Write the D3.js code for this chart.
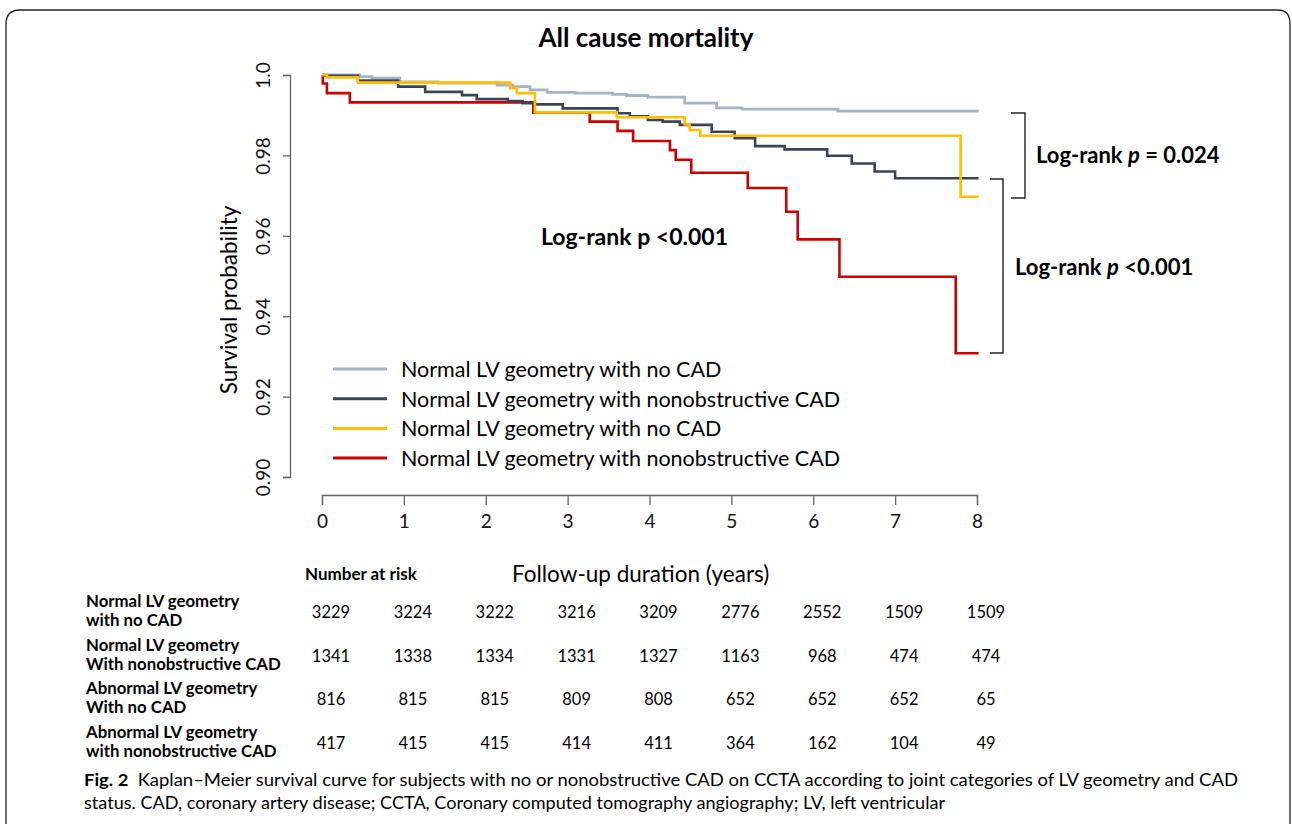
<!DOCTYPE html>
<html>
<head>
<meta charset="utf-8">
<script src="https://cdn.jsdelivr.net/npm/d3@7"></script>
<style>
  html, body { margin: 0; padding: 0; background: #fff; }
  svg { display: block; font-family: Lato, "Open Sans", sans-serif; }
</style>
</head>
<body>
<div id="chart"></div>
<script>
// Kaplan-Meier steps: [time in years, survival after the event]
const greyNoCad = [[0, 1], [0.46, 0.9996], [0.61, 0.9992], [0.95, 0.9983], [1.42, 0.998], [2.14, 0.9975],
  [2.33, 0.9971], [2.54, 0.9963], [2.75, 0.9957], [3.09, 0.9955], [3.55, 0.9952], [3.72, 0.9949],
  [3.98, 0.9945], [4.43, 0.993], [4.82, 0.9918], [5.13, 0.9915], [6.3, 0.991], [8.02, 0.991]];
const darkNonobs = [[0, 1], [0.04, 0.9998], [0.44, 0.9986], [0.93, 0.9971], [1.26, 0.9958], [1.71, 0.995],
  [1.89, 0.994], [2.27, 0.9935], [2.45, 0.993], [2.6, 0.9927], [2.94, 0.9917], [3.61, 0.9905],
  [3.76, 0.9897], [3.98, 0.9888], [4.16, 0.9884], [4.37, 0.9876], [4.76, 0.9859], [5.04, 0.9843],
  [5.29, 0.9823], [5.65, 0.9815], [6.17, 0.9799], [6.47, 0.978], [6.75, 0.976], [7.0, 0.9743], [8.02, 0.9743]];
const yellowNoCad = [[0, 1], [0.06, 0.9994], [0.44, 0.9981], [2.3, 0.9967], [2.38, 0.9955], [2.6, 0.9907],
  [3.6, 0.9895], [4.43, 0.9877], [4.49, 0.9863], [4.62, 0.9849], [7.8, 0.9697], [8.02, 0.9697]];
const redNonobs = [[0, 1], [0.01, 0.9979], [0.06, 0.9955], [0.34, 0.9932], [2.58, 0.9906], [3.27, 0.9884],
  [3.61, 0.9861], [3.8, 0.9836], [4.25, 0.9813], [4.32, 0.9789], [4.51, 0.9757], [5.2, 0.9719],
  [5.67, 0.966], [5.81, 0.9591], [6.32, 0.9498], [7.74, 0.9308], [8.02, 0.9308]];

const legendLabels = ["Normal LV geometry with no CAD", "Normal LV geometry with nonobstructive CAD",
  "Normal LV geometry with no CAD", "Normal LV geometry with nonobstructive CAD"];
const seriesColors = ["#a5b3c8", "#3a4455", "#ffbf00", "#cc0000"];

const xTicks = [0, 1, 2, 3, 4, 5, 6, 7, 8];
const yTicks = [0.90, 0.92, 0.94, 0.96, 0.98, 1.0];
const yTickLabels = ["0.90", "0.92", "0.94", "0.96", "0.98", "1.0"];

const riskLabels = [["Normal LV geometry", "with no CAD"], ["Normal LV geometry", "With nonobstructive CAD"],
  ["Abnormal LV geometry", "With no CAD"], ["Abnormal LV geometry", "with nonobstructive CAD"]];
const riskCounts = [
  [3229, 3224, 3222, 3216, 3209, 2776, 2552, 1509, 1509],
  [1341, 1338, 1334, 1331, 1327, 1163, 968, 474, 474],
  [816, 815, 815, 809, 808, 652, 652, 652, 65],
  [417, 415, 415, 414, 411, 364, 162, 104, 49]
];

const W = 1292, H = 824;
const svg = d3.select("#chart").append("svg").attr("width", W).attr("height", H);

// Figure frame (open at the bottom)
svg.append("path")
  .attr("d", `M6,${H} L6,24 Q6,10 20,10 L1278,10 Q1290,10 1290,24 L1290,${H}`)
  .attr("fill", "none").attr("stroke", "#222").attr("stroke-width", 1.3);

const x = d3.scaleLinear().domain([0, 8]).range([322, 977]);
const y = d3.scaleLinear().domain([0.9, 1.0]).range([477, 75]);

svg.append("text").attr("x", 646).attr("y", 47).attr("text-anchor", "middle")
  .style("font-weight", "bold").style("font-size", "26px").text("All cause mortality");

// Y axis
svg.append("g").attr("transform", "translate(290,0)")
  .call(d3.axisLeft(y).tickValues(yTicks).tickSize(7).tickSizeOuter(7)
    .tickFormat((d, i) => yTickLabels[i]))
  .call(ax => ax.select(".domain").attr("stroke", "#666").attr("stroke-width", 1.3))
  .call(ax => ax.selectAll(".tick line").attr("stroke", "#666").attr("stroke-width", 1.3))
  .call(ax => ax.selectAll("text")
    .attr("transform", "rotate(-90)").attr("x", 0).attr("y", -20).attr("dy", 0)
    .style("text-anchor", "middle").style("font-size", "19px")
    .style("font-family", "Lato, sans-serif").style("fill", "#111"));

svg.append("text").attr("transform", "translate(237,300) rotate(-90)").attr("text-anchor", "middle")
  .style("font-size", "22.5px").text("Survival probability");

// X axis
svg.append("g").attr("transform", "translate(0,495)")
  .call(d3.axisBottom(x).tickValues(xTicks).tickSize(10).tickSizeOuter(10))
  .call(ax => ax.select(".domain").attr("stroke", "#666").attr("stroke-width", 1.3))
  .call(ax => ax.selectAll(".tick line").attr("stroke", "#666").attr("stroke-width", 1.3))
  .call(ax => ax.selectAll("text").attr("y", 20)
    .style("font-size", "19px").style("font-family", "Lato, sans-serif").style("fill", "#111"));

svg.append("text").attr("x", 512).attr("y", 582)
  .style("font-size", "22.5px").text("Follow-up duration (years)");
svg.append("text").attr("x", 305).attr("y", 580)
  .style("font-size", "17px").style("font-weight", "bold").text("Number at risk");

// Curves
const line = d3.line().x(d => x(d[0])).y(d => y(d[1])).curve(d3.curveStepAfter);
const series = [greyNoCad, darkNonobs, yellowNoCad, redNonobs];
[3, 0, 1, 2].forEach(i => {
  svg.append("path").datum(series[i])
    .attr("fill", "none").attr("stroke", seriesColors[i])
    .attr("stroke-width", i === 0 ? 2.8 : 2.6)
    .attr("d", line);
});

// Legend
legendLabels.forEach((lab, i) => {
  const ly = 369 + i * 29.7;
  svg.append("line").attr("x1", 333).attr("x2", 387).attr("y1", ly).attr("y2", ly)
    .attr("stroke", seriesColors[i]).attr("stroke-width", 3);
  svg.append("text").attr("x", 401).attr("y", ly + 8).style("font-size", "21.5px").text(lab);
});

// Log-rank annotations
svg.append("text").attr("x", 541).attr("y", 245).style("font-size", "23px").style("font-weight", "bold")
  .text("Log-rank p <0.001");

svg.append("path").attr("d", "M1011,113 L1025,113 L1025,198 L1011,198")
  .attr("fill", "none").attr("stroke", "#222").attr("stroke-width", 1.4);
svg.append("path").attr("d", "M990,179 L1003,179 L1003,353 L990,353")
  .attr("fill", "none").attr("stroke", "#222").attr("stroke-width", 1.4);

const t1 = svg.append("text").attr("x", 1036).attr("y", 163).style("font-size", "22px").style("font-weight", "bold");
t1.append("tspan").text("Log-rank ");
t1.append("tspan").style("font-style", "italic").text("p");
t1.append("tspan").text(" = 0.024");
const t2 = svg.append("text").attr("x", 1015).attr("y", 275).style("font-size", "22px").style("font-weight", "bold");
t2.append("tspan").text("Log-rank ");
t2.append("tspan").style("font-style", "italic").text("p");
t2.append("tspan").text(" <0.001");

// Number at risk table
riskLabels.forEach((lab, r) => {
  const ry = 607 + r * 43.5;
  svg.append("text").attr("x", 86).attr("y", ry).style("font-size", "16.8px").style("font-weight", "bold").text(lab[0]);
  svg.append("text").attr("x", 86).attr("y", ry + 19).style("font-size", "16.8px").style("font-weight", "bold").text(lab[1]);
  riskCounts[r].forEach((n, c) => {
    svg.append("text").attr("x", x(xTicks[c]) + 9).attr("y", ry + 11).attr("text-anchor", "middle")
      .style("font-size", "16.5px").text(n);
  });
});

// Caption
const c1 = svg.append("text").attr("x", 84).attr("y", 786).style("font-size", "17px")
  .attr("textLength", 1154).attr("lengthAdjust", "spacingAndGlyphs");
c1.append("tspan").style("font-weight", "bold").text("Fig. 2");
c1.append("tspan").text("\u2002Kaplan\u2013Meier survival curve for subjects with no or nonobstructive CAD on CCTA according to joint categories of LV geometry and CAD");
svg.append("text").attr("x", 84).attr("y", 809).style("font-size", "17px")
  .attr("textLength", 861).attr("lengthAdjust", "spacingAndGlyphs")
  .text("status. CAD, coronary artery disease; CCTA, Coronary computed tomography angiography; LV, left ventricular");
</script>
</body>
</html>
